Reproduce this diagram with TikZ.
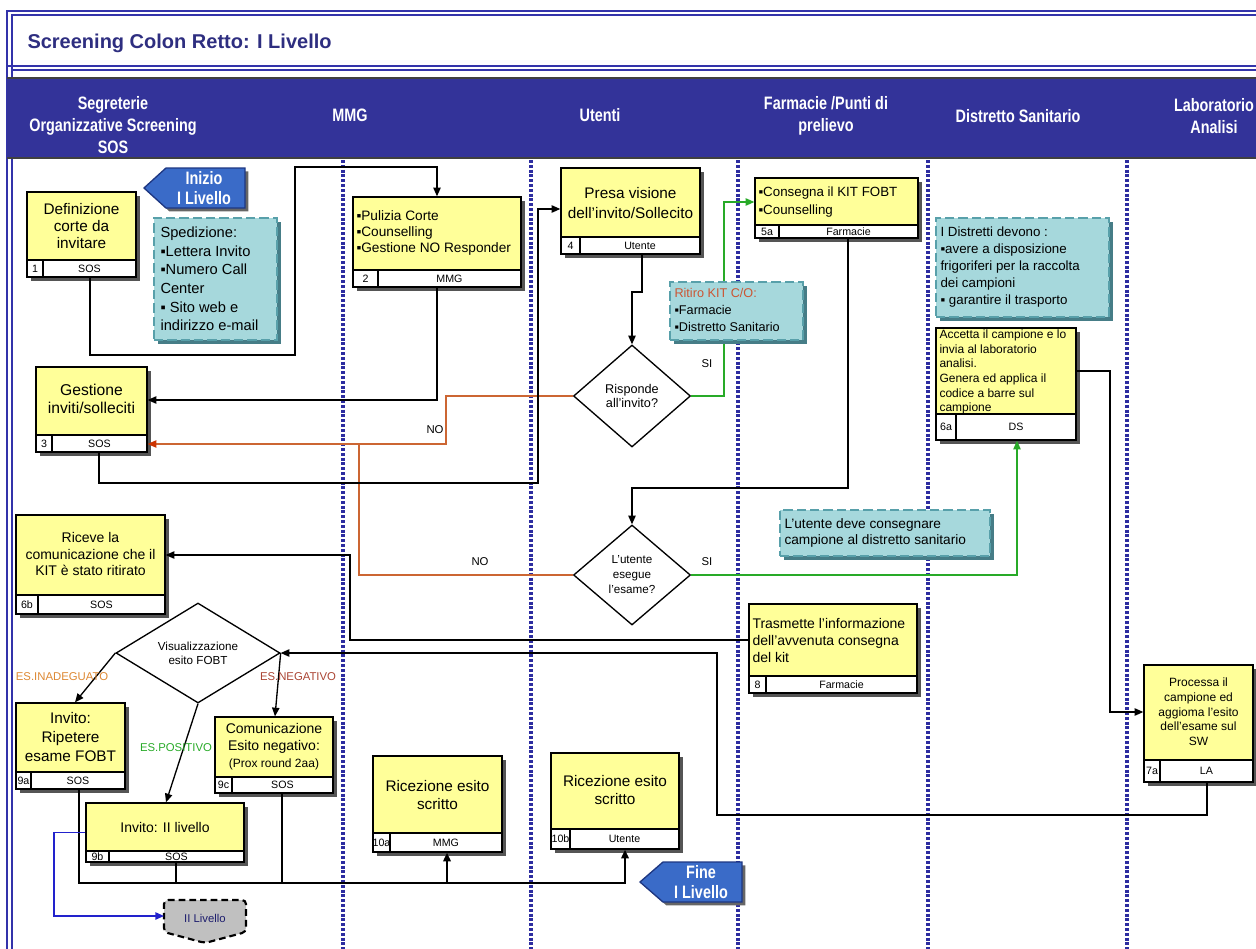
\documentclass[tikz,border=0pt]{standalone}
\usepackage{fontspec}
\setmainfont{Liberation Sans}
\newfontfamily\narrowfont[FakeStretch=0.8]{Liberation Sans}
\usetikzlibrary{arrows.meta,fit,shapes.geometric}

\definecolor{boxyellow}{RGB}{255,255,153}
\definecolor{boxshade}{RGB}{85,85,85}
\definecolor{notecyan}{RGB}{166,216,220}
\definecolor{noteedge}{RGB}{88,160,170}
\definecolor{noteshade}{RGB}{70,125,135}
\definecolor{hdrblue}{RGB}{51,51,153}
\definecolor{framecol}{RGB}{51,51,170}
\definecolor{titleblue}{RGB}{46,46,128}
\definecolor{lanedot}{RGB}{45,45,160}
\definecolor{tagblue}{RGB}{58,107,200}
\definecolor{tagedge}{RGB}{30,55,130}
\definecolor{yesgreen}{RGB}{40,170,40}
\definecolor{noorange}{RGB}{204,102,51}
\definecolor{noarrow}{RGB}{204,51,0}
\definecolor{inadeg}{RGB}{221,136,51}
\definecolor{negbrown}{RGB}{170,68,51}
\definecolor{ritiro}{RGB}{204,85,51}
\definecolor{lvlgray}{RGB}{192,192,192}
\definecolor{lvlblue}{RGB}{34,34,204}
\definecolor{lvltext}{RGB}{30,30,110}

\tikzset{every picture/.style={line width=0.75pt},
  frameline/.style={draw=framecol, line width=0.9pt},
  lane/.style={draw=lanedot, line width=2.6pt, dash pattern=on 2.2pt off 1.4pt},
  procbox/.style={draw=black, line width=1pt, fill=boxyellow, inner sep=0pt,
    preaction={fill=boxshade, transform canvas={shift={(3pt,-3pt)}}}},
  stripcell/.style={draw=black, line width=1pt, fill=white},
  notebox/.style={draw=noteedge, line width=1.6pt, dash pattern=on 7pt off 3pt, fill=notecyan, inner sep=0pt,
    preaction={fill=noteshade, transform canvas={shift={(3pt,-3pt)}}}},
  decision/.style={diamond, draw=black, line width=1pt, fill=white, inner sep=0pt, align=center},
  tagshape/.style={draw=tagedge, line width=1pt, fill=tagblue,
    preaction={fill=black!60, transform canvas={shift={(2.5pt,-2.5pt)}}}},
  titletxt/.style={text=titleblue, inner sep=0pt, font=\bfseries\fontsize{15}{18}\selectfont},
  hdrtxt/.style={text=white, align=center, inner sep=0pt, font=\narrowfont\bfseries\fontsize{13.5}{16.5}\selectfont},
  tagtxt/.style={text=white, align=center, inner sep=0pt, font=\narrowfont\bfseries\fontsize{13.5}{15.5}\selectfont},
  boxtxt/.style={align=center, inner sep=0pt},
  lefttxt/.style={align=left, anchor=west, inner sep=0pt},
  celltxt/.style={inner sep=0pt, font=\fontsize{8}{9}\selectfont},
  flowlbl/.style={inner sep=0pt, font=\fontsize{8.5}{10}\selectfont},
  wire/.style={draw=black, line width=1pt},
  conn/.style={wire, -{Triangle[length=6.5pt,width=5.5pt]}},
  yesconn/.style={draw=yesgreen, line width=1pt, -{Triangle[length=6.5pt,width=5.5pt]}},
  noline/.style={draw=noorange, line width=0.9pt},
  noconn/.style={noline, -{Triangle[length=6.5pt,width=5.5pt,color=noarrow]}},
  lvlconn/.style={draw=lvlblue, line width=1.2pt, -{Triangle[length=6.5pt,width=5.5pt]}},
  bus/.style={draw=black, line width=1.6pt},
  busconn/.style={bus, -{Triangle[length=6.5pt,width=5.5pt]}}
}

\begin{document}
\begin{tikzpicture}[x=0.75pt,y=0.75pt,yscale=-1,xscale=1]
\useasboundingbox (0,0) rectangle (1256,949);

%Frame and title
\draw[frameline] (7,949) -- (7,11) -- (1256,11) ;
\draw[frameline] (12,949) -- (12,15) -- (1256,15) ;
\draw[frameline] (7,66) -- (1256,66) ;
\draw[frameline] (12,70) -- (1256,70) ;
% Text Node
\node[titletxt, anchor=west] (title) at (27,43) {Screening Colon Retto: I Livello};

%Header band
\fill[hdrblue] (7,78) rectangle (1256,158) ;
\draw[line width=1pt, black!75] (7,78) -- (1256,78) (7,158) -- (1256,158) ;
% Text Node
\node[hdrtxt] (hsos) at (113,125) {Segreterie\\Organizzative Screening\\SOS};
% Text Node
\node[hdrtxt] (hmmg) at (350,115) {MMG};
% Text Node
\node[hdrtxt] (hute) at (600,115) {Utenti};
% Text Node
\node[hdrtxt] (hfar) at (826,116) {Farmacie /Punti di\\prelievo};
% Text Node
\node[hdrtxt] (hdis) at (1018,116) {Distretto Sanitario};
% Text Node
\node[hdrtxt] (hlab) at (1214,116) {Laboratorio\\Analisi};

%Lane separators
\draw[lane] (343,160) -- (343,949) ;
\draw[lane] (531,160) -- (531,949) ;
\draw[lane] (738,160) -- (738,949) ;
\draw[lane] (928,160) -- (928,949) ;
\draw[lane] (1127,160) -- (1127,949) ;

%Shape: Box 1
\node[procbox, fit={(27,192) (136,277)}] (b1) {};
\draw[stripcell] (27,260) rectangle (43,277) ;
\draw[stripcell] (43,260) rectangle (136,277) ;
\node[boxtxt, font=\fontsize{11.5}{13}\selectfont] (b1t) at (81.5,226) {Definizione\\corte da\\invitare};
\node[celltxt] (b1n) at (35,268.5) {1};
\node[celltxt] (b1r) at (89.5,268.5) {SOS};

%Shape: Box 2
\node[procbox, fit={(353,197) (521,287)}] (b2) {};
\draw[stripcell] (353,270) rectangle (378,287) ;
\draw[stripcell] (378,270) rectangle (521,287) ;
\node[lefttxt, font=\fontsize{10.25}{12}\selectfont] (b2t) at (356,233) {▪Pulizia Corte\\▪Counselling\\▪Gestione NO Responder};
\node[celltxt] (b2n) at (365.5,278.5) {2};
\node[celltxt] (b2r) at (449.5,278.5) {MMG};

%Shape: Box 3
\node[procbox, fit={(36,367) (147,452)}] (b3) {};
\draw[stripcell] (36,435) rectangle (52,452) ;
\draw[stripcell] (52,435) rectangle (147,452) ;
\node[boxtxt, font=\fontsize{11.75}{13.5}\selectfont] (b3t) at (91.5,399) {Gestione\\inviti/solleciti};
\node[celltxt] (b3n) at (44,443.5) {3};
\node[celltxt] (b3r) at (99.5,443.5) {SOS};

%Shape: Box 4
\node[procbox, fit={(561,168) (700,254)}] (b4) {};
\draw[stripcell] (561,237) rectangle (580,254) ;
\draw[stripcell] (580,237) rectangle (700,254) ;
\node[boxtxt, font=\fontsize{11.5}{15}\selectfont] (b4t) at (630.5,203) {Presa visione\\dell'invito/Sollecito};
\node[celltxt] (b4n) at (570.5,245.5) {4};
\node[celltxt] (b4r) at (640,245.5) {Utente};

%Shape: Box 5a
\node[procbox, fit={(755,178) (918,238)}] (b5) {};
\draw[stripcell] (755,225) rectangle (779,238) ;
\draw[stripcell] (779,225) rectangle (918,238) ;
\node[lefttxt, font=\fontsize{10}{13.5}\selectfont] (b5t) at (758,202) {▪Consegna il KIT FOBT\\▪Counselling};
\node[celltxt] (b5n) at (767,231.5) {5a};
\node[celltxt] (b5r) at (848.5,231.5) {Farmacie};

%Shape: Box 6a
\node[procbox, fit={(936,328) (1076,440)}] (b6) {};
\draw[stripcell] (936,414) rectangle (956,440) ;
\draw[stripcell] (956,414) rectangle (1076,440) ;
\node[lefttxt, font=\fontsize{9}{11}\selectfont] (b6t) at (939,372) {Accetta il campione e lo\\invia al laboratorio\\analisi.\\Genera ed applica il\\codice a barre sul\\campione};
\node[celltxt] (b6n) at (946,427) {6a};
\node[celltxt] (b6r) at (1016,427) {DS};

%Shape: Box 6b
\node[procbox, fit={(16,515) (165,614)}] (b6b) {};
\draw[stripcell] (16,595) rectangle (38,614) ;
\draw[stripcell] (38,595) rectangle (165,614) ;
\node[boxtxt, font=\fontsize{10.5}{12.5}\selectfont] (b6bt) at (90.5,554) {Riceve la\\comunicazione che il\\KIT è stato ritirato};
\node[celltxt] (b6bn) at (27,604.5) {6b};
\node[celltxt] (b6br) at (101.5,604.5) {SOS};

%Shape: Box 8
\node[procbox, fit={(749,604) (917,693)}] (b8) {};
\draw[stripcell] (749,676) rectangle (766,693) ;
\draw[stripcell] (766,676) rectangle (917,693) ;
\node[lefttxt, font=\fontsize{10.5}{12.75}\selectfont] (b8t) at (752,640) {Trasmette l'informazione\\dell'avvenuta consegna\\del kit};
\node[celltxt] (b8n) at (757.5,684.5) {8};
\node[celltxt] (b8r) at (841.5,684.5) {Farmacie};

%Shape: Box 7a
\node[procbox, fit={(1144,665) (1253,782)}] (b7) {};
\draw[stripcell] (1144,760) rectangle (1160,782) ;
\draw[stripcell] (1160,760) rectangle (1253,782) ;
\node[boxtxt, font=\fontsize{9}{11}\selectfont] (b7t) at (1198.5,712) {Processa il\\campione ed\\aggioma l'esito\\dell'esame sul\\SW};
\node[celltxt] (b7n) at (1152,771) {7a};
\node[celltxt] (b7r) at (1206.5,771) {LA};

%Shape: Box 9a
\node[procbox, fit={(16,703) (125,789)}] (b9a) {};
\draw[stripcell] (16,772) rectangle (31,789) ;
\draw[stripcell] (31,772) rectangle (125,789) ;
\node[boxtxt, font=\fontsize{11.5}{14.25}\selectfont] (b9at) at (70.5,737) {Invito:\\Ripetere\\esame FOBT};
\node[celltxt] (b9an) at (23.5,780.5) {9a};
\node[celltxt] (b9ar) at (78,780.5) {SOS};

%Shape: Box 9c
\node[procbox, fit={(215,717) (333,793)}] (b9c) {};
\draw[stripcell] (215,777) rectangle (232,793) ;
\draw[stripcell] (232,777) rectangle (333,793) ;
\node[boxtxt, font=\fontsize{10.5}{12.75}\selectfont] (b9ct) at (274,747) {Comunicazione\\Esito negativo:\\{\fontsize{9}{11}\selectfont (Prox round 2aa)}};
\node[celltxt] (b9cn) at (223.5,785) {9c};
\node[celltxt] (b9cr) at (282.5,785) {SOS};

%Shape: Box 9b
\node[procbox, fit={(86,803) (244,862)}] (b9b) {};
\draw[stripcell] (86,851) rectangle (109,862) ;
\draw[stripcell] (109,851) rectangle (244,862) ;
\node[boxtxt, font=\fontsize{10.5}{12.5}\selectfont] (b9bt) at (165,827) {Invito: II livello};
\node[celltxt] (b9bn) at (97.5,856.5) {9b};
\node[celltxt] (b9br) at (176.5,856.5) {SOS};

%Shape: Box 10a
\node[procbox, fit={(373,756) (502,852)}] (b10a) {};
\draw[stripcell] (373,833) rectangle (390,852) ;
\draw[stripcell] (390,833) rectangle (502,852) ;
\node[boxtxt, font=\fontsize{11.5}{13}\selectfont] (b10at) at (437.5,795) {Ricezione esito\\scritto};
\node[celltxt] (b10an) at (381.5,842.5) {10a};
\node[celltxt] (b10ar) at (446,842.5) {MMG};

%Shape: Box 10b
\node[procbox, fit={(551,753) (679,849)}] (b10b) {};
\draw[stripcell] (551,829) rectangle (570,849) ;
\draw[stripcell] (570,829) rectangle (679,849) ;
\node[boxtxt, font=\fontsize{11.5}{13}\selectfont] (b10bt) at (615,790) {Ricezione esito\\scritto};
\node[celltxt] (b10bn) at (560.5,839) {10b};
\node[celltxt] (b10br) at (624.5,839) {Utente};

%Shape: Diamonds
\node[decision, aspect=1.15, minimum width=87.75pt, minimum height=76.5pt, font=\fontsize{9.5}{11}\selectfont] (d1) at (632,396) {Risponde\\all'invito?};
\node[decision, aspect=1.17, minimum width=87.75pt, minimum height=75pt, font=\fontsize{8.75}{11.25}\selectfont] (d2) at (632,575) {L'utente\\esegue\\l'esame?};
\node[decision, aspect=1.64, minimum width=123pt, minimum height=75pt, font=\fontsize{8.75}{10.5}\selectfont] (d3) at (198,653) {Visualizzazione\\esito FOBT};

%Straight Lines
\draw[conn] (b1.south -| 90,0) -- (90,355) -- (295,355) -- (295,167) -| (b2.north) ;
\draw[conn] (b2.south) |- (b3.east |- 0,400) ;
\draw[noconn] (d1.west) -- (446,396) -- (446,444) -- (b3.east |- 0,444) ;
\draw[noline] (d2.west) -| (359,444) ;
\draw[conn] (b3.south -| 99,0) |- (538,483) |- (b4.west |- 0,209) ;
\draw[conn] (b4.south -| 642,0) |- (632,292) -- (d1.north) ;
\draw[yesconn] (d1.east) -| (724,202) -- (b5.west |- 0,202) ;
\draw[conn] (b5.south -| 848,0) |- (632,488) -- (d2.north) ;
\draw[yesconn] (d2.east) -| (b6.south -| 1017,0) ;
\draw[conn] (b6.east |- 0,371) -| (1110,712) -- (b7.west |- 0,712) ;
\draw[conn] (b7.south -| 1207,0) |- (717,815) |- (d3.east) ;
\draw[conn] (b8.west |- 0,640) -| (350,555) -- (b6b.east |- 0,555) ;
\draw[conn] (d3.west) -- (b9a.north -| 75,0) ;
\draw[conn] (d3.south) -- (b9b.north -| 166,0) ;
\draw[conn] (d3.east) -- (b9c.north -| 275,0) ;
\draw[busconn] (b9a.south -| 79,0) -- (79,883) -- (625,883) -- (b10b.south -| 625,0) ;
\draw[bus] (b9b.south -| 176,0) -- (176,883) ;
\draw[bus] (b9c.south -| 282,0) -- (282,883) ;
\draw[busconn] (447,883) -- (b10a.south -| 447,0) ;

%Shape: II Livello connector
\draw[fill=lvlgray, line width=1.6pt, dash pattern=on 5pt off 3pt, rounded corners=3pt] (164,900) -- (246,900) -- (246,932) -- (205,943) -- (164,932) -- cycle ;
\coordinate (liv2in) at (164,916);
\node[inner sep=0pt, text=lvltext, font=\fontsize{8.5}{10}\selectfont] (liv2) at (205,918) {II Livello};
\draw[lvlconn] (b9b.west) -| (54,916) -- (liv2in) ;

%Shape: Notes
\node[notebox, fit={(154,218) (277,340)}] (n1) {};
\node[lefttxt, font=\fontsize{11}{13.9}\selectfont] (n1t) at (160,279) {Spedizione:\\▪Lettera Invito\\▪Numero Call\\Center\\▪ Sito web e\\indirizzo e-mail};
\node[notebox, fit={(670,282) (803,340)}] (n2) {};
\node[lefttxt, font=\fontsize{9.5}{12.4}\selectfont] (n2t) at (674,310) {\textcolor{ritiro}{Ritiro KIT C/O:}\\▪Farmacie\\▪Distretto Sanitario};
\node[notebox, fit={(936,218) (1109,317)}] (n3) {};
\node[lefttxt, font=\fontsize{10}{12.75}\selectfont] (n3t) at (940,267) {I Distretti devono :\\▪avere a disposizione\\frigoriferi per la raccolta\\dei campioni\\▪ garantire il trasporto};
\node[notebox, fit={(780,510) (990,556)}] (n4) {};
\node[lefttxt, font=\fontsize{10.25}{12}\selectfont] (n4t) at (784,533) {L'utente deve consegnare\\campione al distretto sanitario};

%Shape: Start and end tags
\draw[tagshape] (144,188) -- (166,168) -- (245,168) -- (245,208) -- (166,208) -- cycle ;
\node[tagtxt] (tinizio) at (204,188) {Inizio\\I Livello};
\draw[tagshape] (640,882) -- (663,862) -- (742,862) -- (742,902) -- (663,902) -- cycle ;
\node[tagtxt] (tfine) at (701,882) {Fine\\I Livello};

% Text Node
\node[flowlbl] (lno1) at (435,430) {NO};
% Text Node
\node[flowlbl] (lno2) at (480,562) {NO};
% Text Node
\node[flowlbl] (lsi1) at (707,364) {SI};
% Text Node
\node[flowlbl] (lsi2) at (707,562) {SI};
% Text Node
\node[flowlbl, text=inadeg] (les1) at (62,677) {ES.INADEGUATO};
% Text Node
\node[flowlbl, text=yesgreen] (les2) at (176,748) {ES.POSITIVO};
% Text Node
\node[flowlbl, text=negbrown] (les3) at (298,677) {ES.NEGATIVO};

\end{tikzpicture}
\end{document}
